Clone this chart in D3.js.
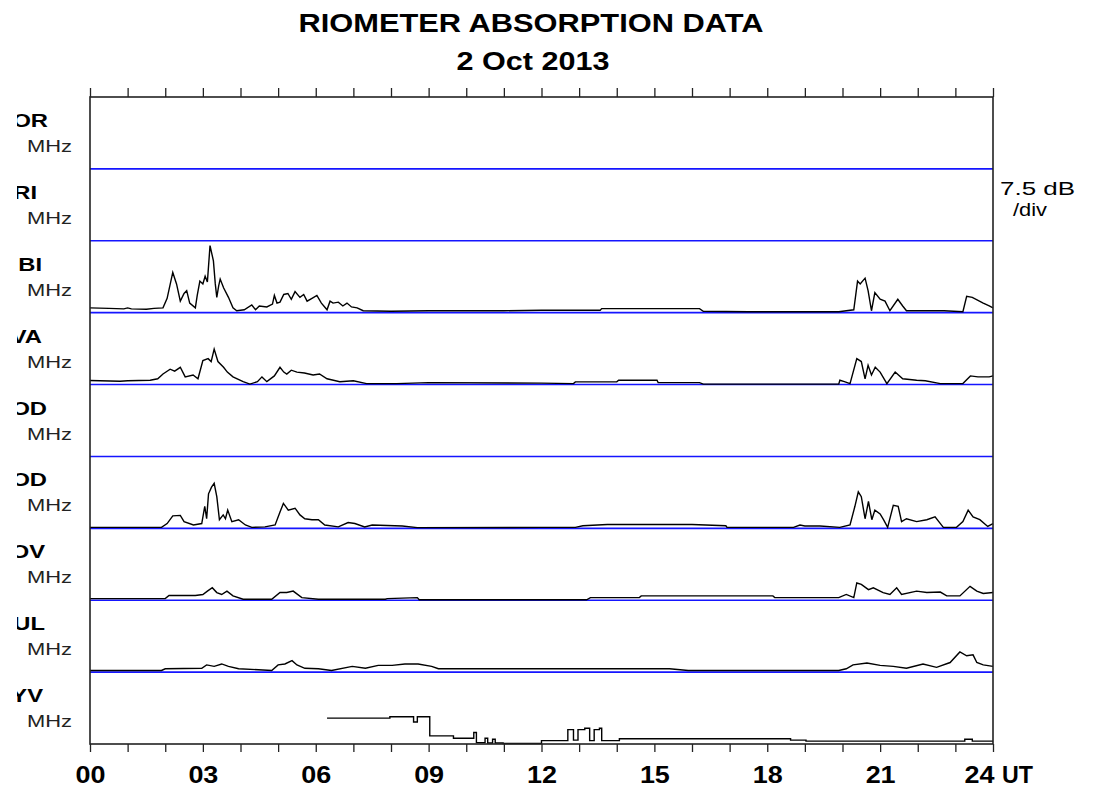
<!DOCTYPE html>
<html>
<head>
<meta charset="utf-8">
<script src="https://cdn.jsdelivr.net/npm/d3@7.9.0/dist/d3.min.js"></script>
<style>
  body { margin: 0; background: #fff; }
  svg { display: block; font-family: "Liberation Sans", Arial, Helvetica, sans-serif; }
</style>
</head>
<body>
<svg id="chart" width="1096" height="793"></svg>
<script>
// station labels (left part of the names is cut off in the original plot)
const stationLabels = ["OR", "RI", "BI", "VA", "OD", "OD", "OV", "UL", "YV"];
const labelRight = [48, 37, 42, 42, 47, 47, 45, 45, 43];
const hourTicks = d3.range(0, 25);
const hourLabels = ["00", "03", "06", "09", "12", "15", "18", "21", "24"];

// absorption in dB, [UT hour, dB]
const abi = [[0,0.5],[0.5,0.45],[0.9,0.4],[1.0,0.5],[1.1,0.4],[1.5,0.35],[1.7,0.45],[1.94,0.5],[2.05,1.5],[2.2,4.2],[2.3,3.0],[2.4,1.2],[2.5,2.0],[2.57,2.3],[2.65,1.0],[2.8,0.5],[2.85,1.8],[2.92,3.3],[3.0,3.0],[3.06,3.8],[3.12,3.2],[3.19,7.0],[3.28,5.4],[3.33,3.0],[3.37,1.6],[3.42,2.8],[3.46,3.5],[3.55,2.6],[3.68,1.6],[3.8,0.5],[3.9,0.2],[4.1,0.3],[4.3,0.8],[4.4,0.3],[4.5,0.7],[4.7,0.6],[4.85,0.9],[4.9,1.8],[4.97,1.0],[5.05,1.1],[5.15,1.9],[5.26,2.0],[5.35,1.4],[5.45,2.2],[5.58,1.6],[5.68,1.9],[5.77,1.2],[5.9,1.5],[6.03,1.8],[6.15,1.0],[6.3,0.3],[6.38,1.2],[6.46,1.0],[6.6,1.1],[6.72,0.7],[6.83,1.0],[6.95,0.6],[7.1,0.5],[7.26,0.2],[8.0,0.15],[9.0,0.2],[10.0,0.2],[11.0,0.2],[12.0,0.25],[13.56,0.25],[13.6,0.42],[16.2,0.42],[16.3,0.15],[17.5,0.1],[19.9,0.1],[20.3,0.3],[20.4,3.3],[20.47,3.0],[20.6,3.6],[20.68,2.3],[20.77,0.2],[20.86,2.1],[21.0,1.4],[21.13,1.2],[21.26,0.2],[21.47,1.4],[21.6,0.7],[21.7,0.2],[22.7,0.2],[23.2,0.1],[23.3,1.7],[23.45,1.6],[23.74,1.0],[23.9,0.7],[24,0.5]];

const iva = [[0,0.42],[0.8,0.35],[1.0,0.4],[1.6,0.45],[1.8,0.6],[1.94,1.1],[2.13,1.6],[2.25,1.4],[2.4,1.8],[2.53,0.8],[2.74,1.0],[2.87,0.6],[3.0,2.5],[3.14,2.7],[3.22,2.4],[3.3,3.7],[3.4,2.4],[3.55,1.8],[3.65,1.3],[3.8,0.8],[4.07,0.3],[4.25,0.05],[4.45,0.3],[4.57,0.8],[4.7,0.3],[4.9,0.9],[5.05,1.8],[5.15,1.3],[5.23,1.1],[5.35,1.5],[5.5,1.3],[5.7,1.2],[5.93,1.0],[6.1,1.1],[6.3,0.6],[6.64,0.3],[7.0,0.4],[7.35,0.1],[8.15,0.1],[9,0.2],[12,0.15],[12.85,0.1],[12.9,0.28],[14,0.28],[14.05,0.45],[15.07,0.45],[15.1,0.2],[16.2,0.2],[16.3,0.05],[19.9,0.05],[19.93,0.45],[20.05,0.3],[20.2,0.1],[20.38,2.7],[20.5,2.4],[20.6,0.6],[20.68,2.0],[20.77,1.0],[20.87,1.8],[21.0,1.3],[21.18,0.1],[21.4,1.3],[21.6,0.6],[21.97,0.45],[22.2,0.4],[22.6,0.1],[23.2,0.1],[23.4,0.9],[23.6,0.8],[23.9,0.8],[24,0.9]];

const sod = [[0,0.1],[1.9,0.1],[2.05,0.5],[2.2,1.3],[2.4,1.35],[2.5,0.7],[2.75,0.35],[2.97,0.5],[3.05,2.3],[3.1,1.0],[3.15,3.6],[3.23,4.3],[3.3,4.7],[3.37,3.3],[3.44,0.9],[3.54,1.4],[3.6,1.0],[3.66,1.9],[3.77,0.7],[3.95,0.9],[4.13,0.35],[4.3,0.1],[4.65,0.15],[4.92,0.35],[5.05,1.7],[5.14,2.6],[5.27,1.9],[5.45,2.1],[5.58,1.4],[5.71,1.0],[5.9,0.9],[6.07,0.9],[6.24,0.35],[6.6,0.15],[6.86,0.6],[7.04,0.5],[7.3,0.15],[7.5,0.35],[8.3,0.25],[8.7,0.07],[12,0.1],[12.9,0.1],[13.1,0.27],[13.75,0.4],[16.0,0.4],[16.9,0.27],[16.93,0.1],[18.7,0.1],[18.87,0.35],[19.0,0.25],[19.4,0.25],[19.93,0.1],[20.2,0.35],[20.33,2.3],[20.42,3.8],[20.5,3.3],[20.6,1.0],[20.69,2.8],[20.78,0.9],[20.86,1.9],[21.0,1.5],[21.09,0.9],[21.2,0.1],[21.35,2.4],[21.48,2.3],[21.57,0.7],[21.7,1.0],[21.97,0.7],[22.24,0.9],[22.46,1.2],[22.68,0.1],[23.03,0.1],[23.2,0.7],[23.34,1.9],[23.47,1.2],[23.65,0.9],[23.86,0.2],[24,0.5]];

const rov = [[0,0.17],[2.0,0.17],[2.1,0.5],[2.8,0.5],[3.0,0.6],[3.12,0.95],[3.25,1.3],[3.37,0.8],[3.5,0.6],[3.64,0.95],[3.8,0.45],[4.07,0.1],[4.83,0.1],[5.05,0.8],[5.23,0.8],[5.4,0.95],[5.63,0.27],[6.07,0.1],[7.85,0.1],[7.9,0.17],[8.7,0.27],[8.75,0.05],[12,0.05],[13.2,0.05],[13.3,0.27],[14.6,0.27],[14.65,0.45],[18.15,0.45],[18.2,0.27],[19.9,0.27],[20.1,0.6],[20.3,0.27],[20.38,1.8],[20.5,1.65],[20.69,1.1],[20.82,1.3],[21.08,0.8],[21.26,0.6],[21.44,1.3],[21.57,0.6],[21.97,0.95],[22.24,0.8],[22.6,0.85],[22.77,0.45],[23.12,0.45],[23.39,1.45],[23.57,0.95],[23.74,0.7],[24,0.8]];

const oul = [[0,0.17],[1.9,0.17],[2.0,0.35],[2.97,0.4],[3.1,0.75],[3.3,0.6],[3.5,0.85],[3.68,0.6],[3.95,0.35],[4.83,0.17],[5.0,0.75],[5.18,0.85],[5.37,1.2],[5.5,0.75],[5.71,0.4],[6.07,0.35],[6.42,0.17],[6.97,0.6],[7.32,0.4],[7.66,0.7],[8.03,0.7],[8.37,0.85],[8.72,0.85],[9.08,0.6],[9.26,0.35],[15.4,0.35],[15.9,0.17],[19.9,0.17],[20.1,0.35],[20.28,0.75],[20.65,0.95],[21.0,0.7],[21.35,0.6],[21.7,0.4],[22.14,0.85],[22.5,0.5],[22.86,1.0],[23.12,2.1],[23.3,1.7],[23.47,1.8],[23.57,1.0],[23.74,0.75],[24,0.6]];

const jyv = [[6.3,2.7],[7.97,2.85],[8.6,2.3],[8.7,2.85],[9.03,0.85],[9.66,0.6],[10.2,1.2],[10.27,0.14],[10.5,0.6],[10.57,0.1],[10.7,0.5],[10.77,0.1],[10.98,0.05],[12.0,0.35],[12.7,1.5],[12.85,0.4],[12.97,1.5],[13.15,1.65],[13.28,0.35],[13.4,1.5],[13.54,1.65],[13.6,0.35],[14.07,0.55],[18.62,0.4],[19.03,0.3],[23.25,0.5],[23.45,0.3],[24,0.3]];

// one entry per panel, empty panels have no data
const panelData = [[], [], abi, iva, [], sod, rov, oul, jyv];
const dbPerDiv = 7.5;

const svg = d3.select("#chart");
const plotLeft = 90, plotRight = 993, plotTop = 97, plotBottom = 744;

const x = d3.scaleLinear().domain([0, 24]).range([plotLeft, plotRight]);
const band = d3.scaleBand().domain(d3.range(stationLabels.length)).range([plotTop, plotBottom]);

// title
svg.append("text").attr("x", 531).attr("y", 32).attr("text-anchor", "middle")
  .attr("font-size", 25).attr("font-weight", "bold")
  .attr("textLength", 465).attr("lengthAdjust", "spacingAndGlyphs")
  .text("RIOMETER ABSORPTION DATA");
svg.append("text").attr("x", 533).attr("y", 70).attr("text-anchor", "middle")
  .attr("font-size", 25).attr("font-weight", "bold")
  .attr("textLength", 153).attr("lengthAdjust", "spacingAndGlyphs")
  .text("2 Oct 2013");

// panels
const line = d3.line().x(d => x(d[0]));

stationLabels.forEach((lab, i) => {
  const y0 = band(i), y1 = y0 + band.bandwidth();
  const y = d3.scaleLinear().domain([0, dbPerDiv]).range([y1, y0]);

  if (i < stationLabels.length - 1) {
    svg.append("line").attr("x1", plotLeft).attr("x2", plotRight)
      .attr("y1", y1).attr("y2", y1)
      .attr("stroke", "#1515ff").attr("stroke-width", 1.6);
  }

  if (panelData[i].length) {
    line.y(d => y(d[1])).curve(i === 8 ? d3.curveStepAfter : d3.curveLinear);
    svg.append("path").datum(panelData[i])
      .attr("d", line)
      .attr("fill", "none").attr("stroke", "#000").attr("stroke-width", 1.4)
      .attr("stroke-linejoin", "miter");
  }
});

// left labels, clipped like the original
svg.append("clipPath").attr("id", "lclip")
  .append("rect").attr("x", 17).attr("y", 0).attr("width", 70).attr("height", 793);
const lg = svg.append("g").attr("clip-path", "url(#lclip)");
stationLabels.forEach((lab, i) => {
  const y0 = band(i);
  lg.append("text")
    .attr("transform", `translate(${labelRight[i]},${y0 + 30}) scale(1.25,1)`)
    .attr("text-anchor", "end").attr("font-size", 19).attr("font-weight", "bold")
    .text(lab);
  lg.append("text").attr("x", 27).attr("y", y0 + 55)
    .attr("font-size", 17).attr("fill", "#222")
    .attr("textLength", 45).attr("lengthAdjust", "spacingAndGlyphs")
    .text("MHz");
});

// frame
svg.append("rect").attr("x", plotLeft).attr("y", plotTop)
  .attr("width", plotRight - plotLeft).attr("height", plotBottom - plotTop)
  .attr("fill", "none").attr("stroke", "#222").attr("stroke-width", 1.6);

// axes
const topAxis = d3.axisTop(x).tickValues(hourTicks).tickSize(9).tickSizeOuter(0).tickFormat("");
svg.append("g").attr("transform", `translate(0,${plotTop})`).call(topAxis)
  .call(g => g.select(".domain").remove())
  .selectAll("line").attr("stroke", "#222").attr("stroke-width", 1.3);

const botAxis = d3.axisBottom(x).tickValues(hourTicks).tickSize(8).tickSizeOuter(0)
  .tickFormat(d => d % 3 === 0 ? hourLabels[d / 3] : "");
const bg = svg.append("g").attr("transform", `translate(0,${plotBottom})`).call(botAxis);
bg.attr("font-family", null);
bg.select(".domain").remove();
bg.selectAll("line").attr("stroke", "#222").attr("stroke-width", 1.3);
bg.selectAll("text")
  .attr("y", 39).attr("dy", null)
  .attr("font-size", 23).attr("font-weight", "bold").attr("fill", "#000")
  .attr("dx", d => d === 24 ? -14 : 0)
  .each(function(d) {
    if (d % 3 === 0) d3.select(this).attr("textLength", 30).attr("lengthAdjust", "spacingAndGlyphs");
  });

svg.append("text").attr("x", 1002).attr("y", 783)
  .attr("font-size", 23).attr("font-weight", "bold")
  .attr("textLength", 31).attr("lengthAdjust", "spacingAndGlyphs")
  .text("UT");

// scale note
svg.append("text").attr("x", 1000).attr("y", 195)
  .attr("font-size", 18)
  .attr("textLength", 75).attr("lengthAdjust", "spacingAndGlyphs")
  .text("7.5 dB");
svg.append("text").attr("x", 1013).attr("y", 216)
  .attr("font-size", 18)
  .attr("textLength", 34).attr("lengthAdjust", "spacingAndGlyphs")
  .text("/div");
</script>
</body>
</html>
